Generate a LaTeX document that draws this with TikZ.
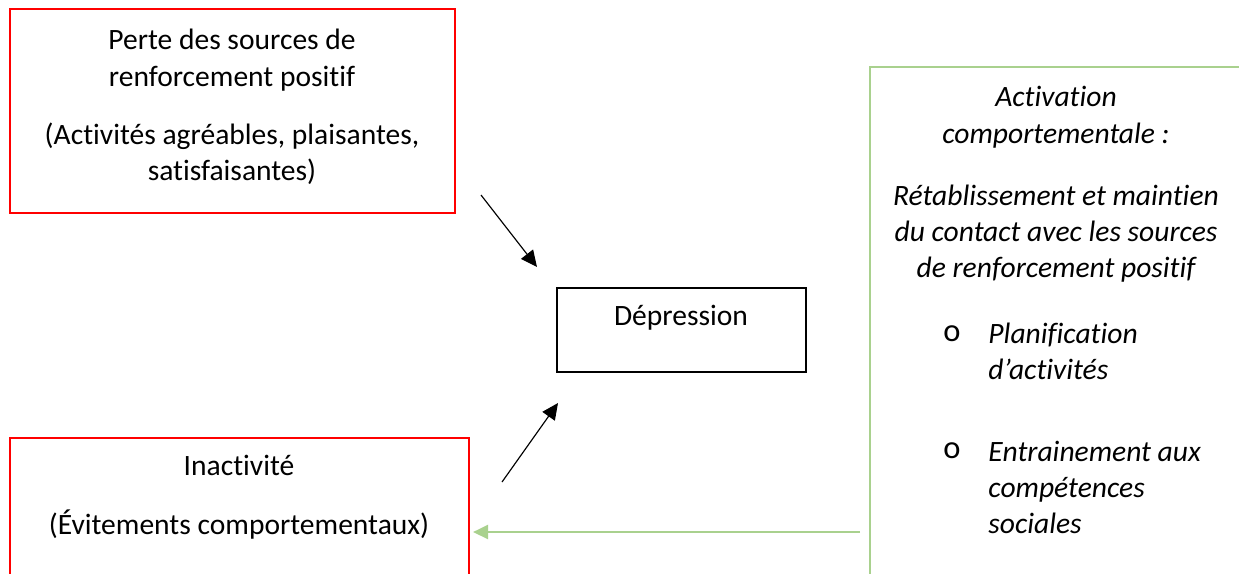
\documentclass[tikz,border=0pt]{standalone}
\usepackage{fontspec}
\setmainfont{Carlito}[Ligatures={NoCommon}]
\usetikzlibrary{arrows.meta}
\definecolor{wordgreen}{RGB}{169,209,142}

\begin{document}
\begin{tikzpicture}[x=0.43pt, y=-0.43pt,
    every node/.style={font=\fontsize{12.7}{15.6}\selectfont},
    redbox/.style={draw=red, line width=1pt, inner sep=0pt},
    txt/.style={align=center, inner sep=0pt}]
  \useasboundingbox (0,0) rectangle (1239,573);
  \clip (0,0) rectangle (1239,573);
  % boxes
  \node[redbox, minimum width=191.4pt, minimum height=87.7pt] (perte) at (232.5,111) {};
  \node[redbox, minimum width=197.4pt, minimum height=78.3pt] (inact) at (239.5,529) {};
  \node[draw, line width=1pt, inner sep=0pt, minimum width=107.1pt, minimum height=36.1pt] (dep) at (681.5,330) {};
  \node[draw=wordgreen, line width=1pt, inner sep=0pt, minimum width=167.7pt, minimum height=237.8pt] (act) at (1065,343.5) {};
  % texts
  \node[txt] (perteTxt) at (232,107) {Perte des sources de\\renforcement positif\\[9.5pt](Activités agréables, plaisantes,\\satisfaisantes)};
  \node[txt] (inactTxt) at (239,497) {Inactivité\\[10pt](Évitements comportementaux)};
  \node[txt] (depTxt) at (681,318) {Dépression};
  \node[txt, font=\fontsize{12.7}{15.6}\selectfont\itshape] (actTxt) at (1056,184.5) {Activation\\comportementale :\\[11pt]Rétablissement et maintien\\du contact avec les sources\\de renforcement positif};
  \node[inner sep=0pt, font=\fontsize{14}{15.6}\selectfont] (b1) at (952,334) {o};
  \node[inner sep=0pt, font=\fontsize{14}{15.6}\selectfont] (b2) at (952,451) {o};
  \node[txt, align=left, anchor=west, font=\fontsize{12.7}{15.6}\selectfont\itshape] (plan) at (988,351.5) {Planification\\d’activités};
  \node[txt, align=left, anchor=west, font=\fontsize{12.7}{15.6}\selectfont\itshape] (entr) at (988,487.5) {Entrainement aux\\compétences\\sociales};
  % arrows
  \coordinate (a1s) at (481,195);
  \coordinate (a1e) at (537,267);
  \coordinate (a2s) at (502,482);
  \coordinate (a2e) at (558,403);
  \coordinate (gs) at (860,532);
  \coordinate (ge) at (473,532);
  \draw[-{Triangle[length=7pt,width=6.5pt]}, line width=0.5pt] (a1s) -- (a1e);
  \draw[-{Triangle[length=7pt,width=6.5pt]}, line width=0.5pt] (a2s) -- (a2e);
  \draw[-{Triangle[length=6.5pt,width=6pt]}, wordgreen, line width=1.1pt] (gs) -- (ge);
\end{tikzpicture}
\end{document}
